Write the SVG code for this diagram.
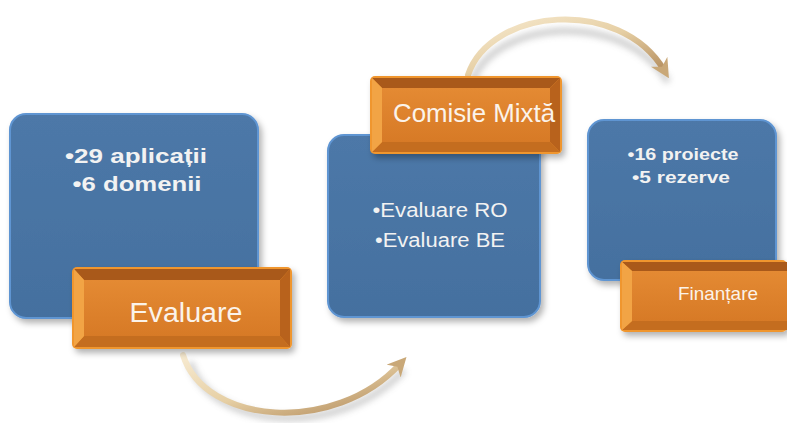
<svg xmlns="http://www.w3.org/2000/svg" width="787" height="423" viewBox="0 0 787 423">
<defs>
<linearGradient id="blue" x1="0" y1="0" x2="0" y2="1">
<stop offset="0" stop-color="#4d78a8"/><stop offset="1" stop-color="#44709f"/>
</linearGradient>
<linearGradient id="face" x1="0" y1="0" x2="0" y2="1">
<stop offset="0" stop-color="#e48a33"/><stop offset="1" stop-color="#d77a26"/>
</linearGradient>
<linearGradient id="arr" x1="0" y1="0" x2="1" y2="1">
<stop offset="0" stop-color="#f7ead0"/><stop offset="0.5" stop-color="#e6cfa4"/><stop offset="1" stop-color="#b08858"/>
</linearGradient>
<filter id="sh" x="-20%" y="-20%" width="140%" height="140%">
<feDropShadow dx="3" dy="4" stdDeviation="3" flood-color="#000" flood-opacity="0.3"/>
</filter>
<filter id="blur" x="-20%" y="-20%" width="140%" height="140%">
<feGaussianBlur stdDeviation="3"/>
</filter>
<marker id="ah" viewBox="0 0 10 10" refX="5" refY="5" markerWidth="3.2" markerHeight="3.2" orient="auto" markerUnits="strokeWidth">
<path d="M0,0 L10,5 L0,10 L3,5 Z" fill="#c9a878"/>
</marker>
</defs>
<style>
.blue{fill:url(#blue);stroke:#5f95d2;stroke-width:2;filter:url(#sh)}
.outer{fill:#f0962f;filter:url(#sh)}
.bt{fill:#a9591a}
.bb{fill:#c46d1f}
.bl{fill:#f2a445}
.br{fill:#b8621c}
.fc{fill:url(#face)}
.lbl{font-family:"Liberation Sans",Arial,sans-serif;fill:#fbf3ea}
.bul{font-family:"Liberation Sans",Arial,sans-serif;fill:#f2f2f2;text-anchor:middle}
.arrow{fill:none;stroke:url(#arr);stroke-width:6;stroke-linecap:round}
.ashadow{fill:none;stroke:#999;stroke-width:7;opacity:0.45;filter:url(#blur)}
</style>

<g id="connectors">
<path class="ashadow" d="M472,82 C494,20 624,8 668,82"/>
<path class="arrow" d="M468,75 C490,8 620,-4 664,70" marker-end="url(#ah)"/>
<path class="ashadow" d="M190,362 C210,430 340,440 404,370" opacity="0.25"/>
<path class="arrow" d="M183,355 C205,425 335,435 400,364" marker-end="url(#ah)"/>
</g>

<g id="node-box1">
<rect class="blue" x="10" y="114" width="248" height="204" rx="16"/>
<text class="bul" x="136" y="163" font-size="21" font-weight="bold" textLength="142" lengthAdjust="spacingAndGlyphs">•29 aplicații</text>
<text class="bul" x="137" y="191" font-size="21" font-weight="bold" textLength="129" lengthAdjust="spacingAndGlyphs">•6 domenii</text>
</g>

<g id="node-box2">
<rect class="blue" x="328" y="135" width="212" height="182" rx="16"/>
<text class="bul" x="440" y="217" font-size="20" textLength="135" lengthAdjust="spacingAndGlyphs">•Evaluare RO</text>
<text class="bul" x="440" y="247" font-size="20" textLength="130" lengthAdjust="spacingAndGlyphs">•Evaluare BE</text>
</g>

<g id="node-box3">
<rect class="blue" x="588" y="120" width="188" height="160" rx="16"/>
<text class="bul" x="683" y="160" font-size="17" font-weight="bold" textLength="111" lengthAdjust="spacingAndGlyphs">•16 proiecte</text>
<text class="bul" x="681" y="183" font-size="17" font-weight="bold" textLength="98" lengthAdjust="spacingAndGlyphs">•5 rezerve</text>
</g>

<g id="node-evaluare">
<rect class="outer" x="72" y="267" width="220" height="82" rx="5"/>
<polygon class="bt" points="74,269 290,269 280,280 84,280"/>
<polygon class="bb" points="74,347 290,347 280,336 84,336"/>
<polygon class="bl" points="74,269 84,280 84,336 74,347"/>
<polygon class="br" points="290,269 280,280 280,336 290,347"/>
<rect class="fc" x="84" y="280" width="196" height="56"/>
<text class="lbl" x="186" y="322" font-size="27" text-anchor="middle" textLength="113" lengthAdjust="spacingAndGlyphs">Evaluare</text>
</g>

<g id="node-comisie">
<rect class="outer" x="370" y="76" width="192" height="78" rx="5"/>
<polygon class="bt" points="372,78 560,78 550,88 382,88"/>
<polygon class="bb" points="372,152 560,152 550,142 382,142"/>
<polygon class="bl" points="372,78 382,88 382,142 372,152"/>
<polygon class="br" points="560,78 550,88 550,142 560,152"/>
<rect class="fc" x="382" y="88" width="168" height="54"/>
<text class="lbl" x="474" y="122" font-size="26" text-anchor="middle" textLength="162" lengthAdjust="spacingAndGlyphs">Comisie Mixtă</text>
</g>

<g id="node-finantare">
<rect class="outer" x="620" y="260" width="167" height="72" rx="5"/>
<polygon class="bt" points="622,262 787,262 787,271 632,271"/>
<polygon class="bb" points="622,330 787,330 787,321 632,321"/>
<polygon class="bl" points="622,262 632,271 632,321 622,330"/>
<rect class="fc" x="632" y="271" width="155" height="50"/>
<text class="lbl" x="718" y="300" font-size="19" text-anchor="middle" textLength="80" lengthAdjust="spacingAndGlyphs">Finanțare</text>
</g>
</svg>
